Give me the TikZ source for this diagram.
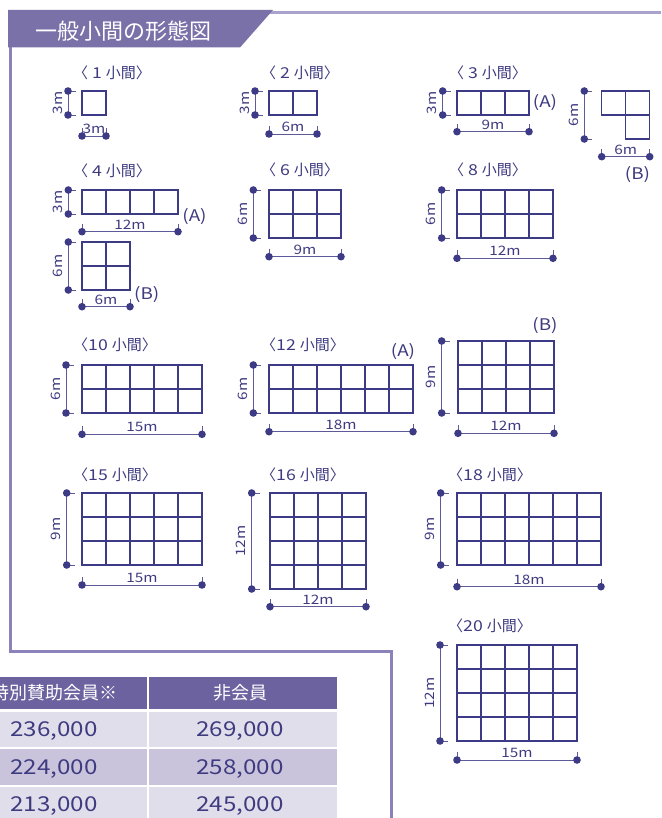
\documentclass[tikz,border=0pt]{standalone}
\usepackage{fontspec}
\newfontfamily\jp{Noto Sans CJK JP}
\newfontfamily\lat[FakeStretch=1.18]{Noto Sans CJK JP}
\usetikzlibrary{calc}
\definecolor{barc}{HTML}{7A71A9}
\definecolor{framec}{HTML}{8A82B8}
\definecolor{topc}{HTML}{A9A3CB}
\definecolor{navy}{HTML}{3D3B85}
\definecolor{dimc}{HTML}{5E5A9A}
\definecolor{txtc}{HTML}{3E3B80}
\definecolor{hdrc}{HTML}{6B629F}
\definecolor{rowa}{HTML}{E1DEEB}
\definecolor{rowb}{HTML}{C9C4DC}
\newcommand\ttl[1]{{\jp 〈}{\lat #1}{\jp 小間〉}}
\newcommand\gridbox[5]{%
  \node[boxn, minimum width=#4*24pt, minimum height=#5*24pt, anchor=north west] (#1) at (#2,#3) {};
  \draw[gridln, shift={(#2,#3)}] (0,0) grid[step=24pt] (#4*24pt,-#5*24pt);
}
\newcommand\dimV[5]{%
  \coordinate (#1a) at (#2,#3);
  \coordinate (#1b) at (#2,#4);
  \draw[dimln] ($(#1a)+(8,0)$) -- (#1a) -- (#1b) -- ($(#1b)+(8,0)$);
  \fill[dotf] (#1a) circle (3.8pt);
  \fill[dotf] (#1b) circle (3.8pt);
  \node[dimlab, rotate=90, anchor=base] (#1l) at ($(#1a)!0.5!(#1b)+(-6,0)$) {#5};
}
\newcommand\dimH[5]{%
  \coordinate (#1a) at (#3,#2);
  \coordinate (#1b) at (#4,#2);
  \draw[dimln] ($(#1a)+(0,-8)$) -- (#1a) -- (#1b) -- ($(#1b)+(0,-8)$);
  \fill[dotf] (#1a) circle (3.8pt);
  \fill[dotf] (#1b) circle (3.8pt);
  \node[dimlab, anchor=base] (#1l) at ($(#1a)!0.5!(#1b)+(0,-2.5)$) {#5};
}
\begin{document}
\begin{tikzpicture}[x=1pt,y=-1pt,
  titletxt/.style={font=\fontsize{15}{17}\selectfont, text=txtc, anchor=west, inner sep=0},
  dimlab/.style={font=\lat\fontsize{13}{15}\selectfont, text=txtc, inner sep=0},
  ablab/.style={font=\lat\fontsize{16}{18}\selectfont, text=txtc, inner sep=0},
  boxn/.style={draw=navy, line width=1.05pt, inner sep=0, outer sep=0},
  gridln/.style={navy, line width=1.05pt},
  dimln/.style={dimc, line width=0.85pt},
  dotf/.style={fill=navy},
  numtxt/.style={font=\lat\fontsize{20.5}{22}\selectfont, text=txtc, inner sep=0},
  hdrtxt/.style={font=\jp\fontsize{18}{20}\selectfont, text=white, inner sep=0}]
\useasboundingbox (0,0) rectangle (661,818);
\clip (0,0) rectangle (661,818);
% frame
\draw[topc, line width=2.5pt] (262,12.5) -- (661,12.5);
\draw[framec, line width=3pt] (10.5,40) -- (10.5,651) -- (391,651) -- (391,830);
\fill[barc] (8,10) -- (273,10) -- (240,47.5) -- (8,47.5) -- cycle;
\node[font=\jp\fontsize{22}{24}\selectfont, text=white, anchor=west, inner sep=0] (title) at (35,31) {一般小間の形態図};
% 1
\node[titletxt] (t1) at (73,73) {\ttl{ 1 }};
\gridbox{g1}{82}{91}{1}{1}
\dimV{v1}{68}{91}{115}{3m}
\dimH{h1}{136}{82}{106}{3m}
% 2
\node[titletxt] (t2) at (261,73) {\ttl{ 2 }};
\gridbox{g2}{269}{91}{2}{1}
\dimV{v2}{255}{91}{115}{3m}
\dimH{h2}{134}{269}{317}{6m}
% 3A
\node[titletxt] (t3) at (449,73) {\ttl{ 3 }};
\gridbox{g3a}{457}{91}{3}{1}
\dimV{v3a}{442.7}{91}{115}{3m}
\dimH{h3a}{131.7}{457}{529}{9m}
\node[ablab] (a3) at (545,103) {(A)};
% 3B
\node[boxn, minimum width=24pt, minimum height=24pt, anchor=north west] (g3b1) at (601.7,91) {};
\node[boxn, minimum width=24pt, minimum height=24pt, anchor=north west] (g3b2) at (625.7,91) {};
\node[boxn, minimum width=24pt, minimum height=24pt, anchor=north west] (g3b3) at (625.7,115) {};
\dimV{v3b}{584.3}{91}{139}{6m}
\dimH{h3b}{156.7}{601.7}{649.7}{6m}
\node[ablab] (b3) at (637.5,175) {(B)};
% 4A
\node[titletxt] (t4) at (73,171) {\ttl{ 4 }};
\gridbox{g4a}{82}{190}{4}{1}
\dimV{v4a}{68.3}{190}{214}{3m}
\dimH{h4a}{231.7}{82}{178}{12m}
\node[ablab] (a4) at (194.5,217) {(A)};
% 4B
\gridbox{g4b}{82}{242}{2}{2}
\dimV{v4b}{68.3}{242}{290}{6m}
\dimH{h4b}{306.7}{82}{130}{6m}
\node[ablab] (b4) at (146.7,295) {(B)};
% 6
\node[titletxt] (t6) at (261,170) {\ttl{ 6 }};
\gridbox{g6}{269}{190}{3}{2}
\dimV{v6}{253.3}{190}{238}{6m}
\dimH{h6}{256.7}{269}{341}{9m}
% 8
\node[titletxt] (t8) at (449,170) {\ttl{ 8 }};
\gridbox{g8}{457}{190}{4}{2}
\dimV{v8}{441.7}{190}{238}{6m}
\dimH{h8}{258.3}{457}{553}{12m}
% 10
\node[titletxt] (t10) at (73,345) {\ttl{10 }};
\gridbox{g10}{82}{365}{5}{2}
\dimV{v10}{66}{365}{413}{6m}
\dimH{h10}{434.3}{82}{202}{15m}
% 12A
\node[titletxt] (t12) at (261,345) {\ttl{12 }};
\gridbox{g12a}{269}{365}{6}{2}
\dimV{v12a}{253.3}{365}{413}{6m}
\dimH{h12a}{431.7}{269}{413}{18m}
\node[ablab] (a12) at (403,351.7) {(A)};
% 12B
\gridbox{g12b}{458}{341}{4}{3}
\dimV{v12b}{441.7}{341}{413}{9m}
\dimH{h12b}{433.3}{458}{554}{12m}
\node[ablab] (b12) at (545,326) {(B)};
% 15
\node[titletxt] (t15) at (73,475) {\ttl{15 }};
\gridbox{g15}{82}{493}{5}{3}
\dimV{v15}{66.7}{493}{565}{9m}
\dimH{h15}{585}{82}{202}{15m}
% 16
\node[titletxt] (t16) at (261,475) {\ttl{16 }};
\gridbox{g16}{270}{493}{4}{4}
\dimV{v16}{251.7}{493}{589}{12m}
\dimH{h16}{606.7}{270}{366}{12m}
% 18
\node[titletxt] (t18) at (448,475) {\ttl{18 }};
\gridbox{g18}{457}{493}{6}{3}
\dimV{v18}{440.7}{493}{565}{9m}
\dimH{h18}{586.7}{457}{601}{18m}
% 20
\node[titletxt] (t20) at (448,626) {\ttl{20 }};
\gridbox{g20}{457}{645}{5}{4}
\dimV{v20}{440}{645}{741}{12m}
\dimH{h20}{760}{457}{577}{15m}
% table
\fill[hdrc] (-10,677) rectangle (147,709);
\fill[hdrc] (149,677) rectangle (337,709);
\fill[rowa] (-10,712) rectangle (147,747);
\fill[rowa] (149,712) rectangle (337,747);
\fill[rowb] (-10,749) rectangle (147,785);
\fill[rowb] (149,749) rectangle (337,785);
\fill[rowa] (-10,787) rectangle (147,830);
\fill[rowa] (149,787) rectangle (337,830);
\node[hdrtxt] (hd1) at (54,693) {特別賛助会員※};
\node[hdrtxt] (hd2) at (240,693) {非会員};
\node[numtxt] (n11) at (54,731) {236,000};
\node[numtxt] (n12) at (240,731) {269,000};
\node[numtxt] (n21) at (54,768.5) {224,000};
\node[numtxt] (n22) at (240,768.5) {258,000};
\node[numtxt] (n31) at (54,806) {213,000};
\node[numtxt] (n32) at (240,806) {245,000};
\end{tikzpicture}
\end{document}
